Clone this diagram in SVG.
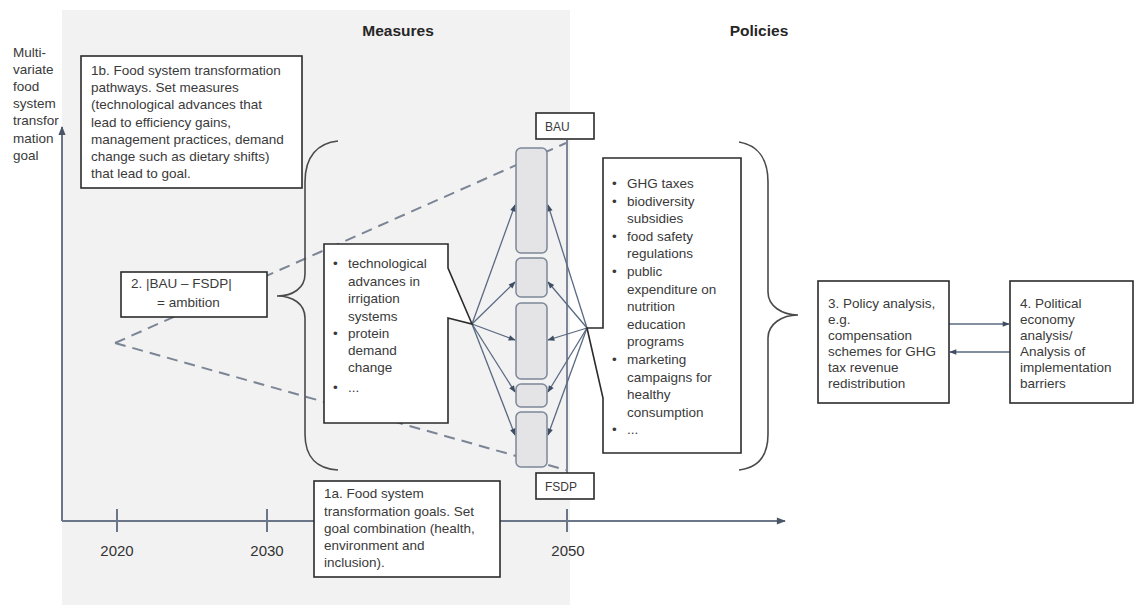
<svg xmlns="http://www.w3.org/2000/svg" width="1135" height="605" viewBox="0 0 1135 605">
<style>
.t{font-family:"Liberation Sans",Arial,sans-serif;font-size:13.5px;fill:#3a3a3a}
.h{font-family:"Liberation Sans",Arial,sans-serif;font-size:15.5px;font-weight:bold;fill:#262626;text-anchor:middle}
.yr{font-family:"Liberation Sans",Arial,sans-serif;font-size:15px;fill:#333;text-anchor:middle}
.sm{font-family:"Liberation Sans",Arial,sans-serif;font-size:12px;fill:#3a3a3a}
.box{fill:#fff;stroke:#2b2b2b;stroke-width:1.6}
.dash{stroke:#7b8595;stroke-width:2;stroke-dasharray:11 7;fill:none}
.axis{stroke:#6b7689;stroke-width:2;fill:none}
.arr{stroke:#5a6a82;stroke-width:1.3;fill:none;marker-end:url(#ah)}
.brace{fill:none;stroke:#4a4a4a;stroke-width:1.6}
.seg{fill:#e4e4e6;stroke:#7c8798;stroke-width:1.5}
</style>
<defs>
<marker id="ah" viewBox="0 0 10 10" refX="9" refY="5" markerWidth="8" markerHeight="7" orient="auto" markerUnits="userSpaceOnUse"><path d="M0,1 L10,5 L0,9 z" fill="#3f4d63"/></marker>
<marker id="axh" viewBox="0 0 10 10" refX="9" refY="5" markerWidth="10" markerHeight="9" orient="auto" markerUnits="userSpaceOnUse"><path d="M0,1 L10,5 L0,9 z" fill="#4a5568"/></marker>
</defs>
<rect x="62" y="10" width="508" height="595" fill="#f2f2f2"/>
<text class="h" x="398" y="36">Measures</text>
<text class="h" x="759" y="36">Policies</text>
<g id="yaxis-label">
<text class="t" x="13" y="57">Multi-</text>
<text class="t" x="13" y="74">variate</text>
<text class="t" x="13" y="91">food</text>
<text class="t" x="13" y="108">system</text>
<text class="t" x="13" y="125">transfor</text>
<text class="t" x="13" y="143">mation</text>
<text class="t" x="13" y="160">goal</text>
</g>
<g id="connectors">
<path class="axis" d="M62,521 L62,127" marker-end="url(#axh)"/>
<path class="axis" d="M62,521 L785,521" marker-end="url(#axh)"/>
<path class="axis" d="M117,509 V532 M267,509 V532 M567,509 V532"/>
<path class="dash" d="M115,343 L566,143 M115,343 L566,470"/>
<path d="M567,140 V473" stroke="#7d8799" stroke-width="2" fill="none"/>
<path class="arr" d="M472,324 L515,205"/>
<path class="arr" d="M472,324 L515,282"/>
<path class="arr" d="M472,324 L515,340"/>
<path class="arr" d="M472,324 L515,392"/>
<path class="arr" d="M472,324 L515,435"/>
<path class="arr" d="M587,328 L548,205"/>
<path class="arr" d="M587,328 L548,282"/>
<path class="arr" d="M587,328 L548,340"/>
<path class="arr" d="M587,328 L548,392"/>
<path class="arr" d="M587,328 L548,435"/>
<path class="arr" d="M949,324 L1009,324"/>
<path class="arr" d="M1010,352 L950,352"/>
</g>
<g id="years">
<text class="yr" x="117" y="556">2020</text>
<text class="yr" x="267" y="556">2030</text>
<text class="yr" x="568" y="556">2050</text>
</g>
<g id="segments">
<rect class="seg" x="516" y="148" width="31" height="105" rx="5"/>
<rect class="seg" x="516" y="258" width="31" height="39" rx="5"/>
<rect class="seg" x="516" y="303" width="31" height="76" rx="5"/>
<rect class="seg" x="516" y="384" width="31" height="23" rx="5"/>
<rect class="seg" x="516" y="412" width="31" height="55" rx="5"/>
</g>
<g id="brace-measures"><path class="brace" d="M338,141 C318,143 305,156 305,182 L305,274 C305,288 293,296 277,296 C293,296 305,304 305,318 L305,434 C305,458 318,469 338,470"/></g>
<g id="brace-policies"><path class="brace" d="M739,142 C757,145 768,158 768,182 L768,292 C768,306 782,315 798,315 C782,315 768,324 768,338 L768,434 C768,458 757,468 739,470"/></g>
<g id="box1b">
<rect class="box" x="81" y="56" width="221" height="132"/>
<text class="t" x="91" y="75">1b. Food system transformation</text>
<text class="t" x="91" y="92">pathways. Set measures</text>
<text class="t" x="91" y="109">(technological advances that</text>
<text class="t" x="91" y="127">lead to efficiency gains,</text>
<text class="t" x="91" y="144">management practices, demand</text>
<text class="t" x="91" y="161">change such as dietary shifts)</text>
<text class="t" x="91" y="178">that lead to goal.</text>
</g>
<g id="box2">
<rect class="box" x="121" y="272" width="146" height="45"/>
<text class="t" x="131" y="288">2. |BAU – FSDP|</text>
<text class="t" x="157" y="307">= ambition</text>
</g>
<g id="measures">
<path class="box" d="M324,244 L448,244 L448,268 L472,324 L448,318 L448,423 L324,423 Z"/>
<text class="t" x="333" y="268">•</text>
<text class="t" x="348" y="268">technological</text>
<text class="t" x="348" y="286">advances in</text>
<text class="t" x="348" y="303">irrigation</text>
<text class="t" x="348" y="321">systems</text>
<text class="t" x="333" y="338">•</text>
<text class="t" x="348" y="338">protein</text>
<text class="t" x="348" y="355">demand</text>
<text class="t" x="348" y="372">change</text>
<text class="t" x="333" y="392">•</text>
<text class="t" x="348" y="392">...</text>
</g>
<g id="policies">
<path class="box" d="M603,158 L741,158 L741,453 L603,453 L603,398 L587,328 L603,328 Z"/>
<text class="t" x="612" y="188">•</text><text class="t" x="627" y="188">GHG taxes</text>
<text class="t" x="612" y="205.6">•</text><text class="t" x="627" y="205.6">biodiversity</text>
<text class="t" x="627" y="223.2">subsidies</text>
<text class="t" x="612" y="240.8">•</text><text class="t" x="627" y="240.8">food safety</text>
<text class="t" x="627" y="258.4">regulations</text>
<text class="t" x="612" y="276">•</text><text class="t" x="627" y="276">public</text>
<text class="t" x="627" y="293.6">expenditure on</text>
<text class="t" x="627" y="311.2">nutrition</text>
<text class="t" x="627" y="328.8">education</text>
<text class="t" x="627" y="346.4">programs</text>
<text class="t" x="612" y="364">•</text><text class="t" x="627" y="364">marketing</text>
<text class="t" x="627" y="381.6">campaigns for</text>
<text class="t" x="627" y="399.2">healthy</text>
<text class="t" x="627" y="416.8">consumption</text>
<text class="t" x="612" y="434.4">•</text><text class="t" x="627" y="434.4">...</text>
</g>
<g id="bau">
<rect class="box" x="536" y="113" width="58" height="26"/>
<text class="sm" x="545" y="131">BAU</text>
</g>
<g id="fsdp">
<rect class="box" x="536" y="473" width="58" height="26"/>
<text class="sm" x="545" y="491">FSDP</text>
</g>
<g id="box1a">
<rect class="box" x="314" y="481" width="186" height="96"/>
<text class="t" x="324" y="498">1a. Food system</text>
<text class="t" x="324" y="516">transformation goals. Set</text>
<text class="t" x="324" y="533">goal combination (health,</text>
<text class="t" x="324" y="550">environment and</text>
<text class="t" x="324" y="567">inclusion).</text>
</g>
<g id="box3">
<rect class="box" x="818" y="281" width="131" height="122"/>
<text class="t" x="828" y="308">3. Policy analysis,</text>
<text class="t" x="828" y="324">e.g.</text>
<text class="t" x="828" y="340">compensation</text>
<text class="t" x="828" y="356">schemes for GHG</text>
<text class="t" x="828" y="372">tax revenue</text>
<text class="t" x="828" y="388">redistribution</text>
</g>
<g id="box4">
<rect class="box" x="1010" y="281" width="123" height="122"/>
<text class="t" x="1020" y="308">4. Political</text>
<text class="t" x="1020" y="324">economy</text>
<text class="t" x="1020" y="340">analysis/</text>
<text class="t" x="1020" y="356">Analysis of</text>
<text class="t" x="1020" y="372">implementation</text>
<text class="t" x="1020" y="388">barriers</text>
</g>
</svg>
